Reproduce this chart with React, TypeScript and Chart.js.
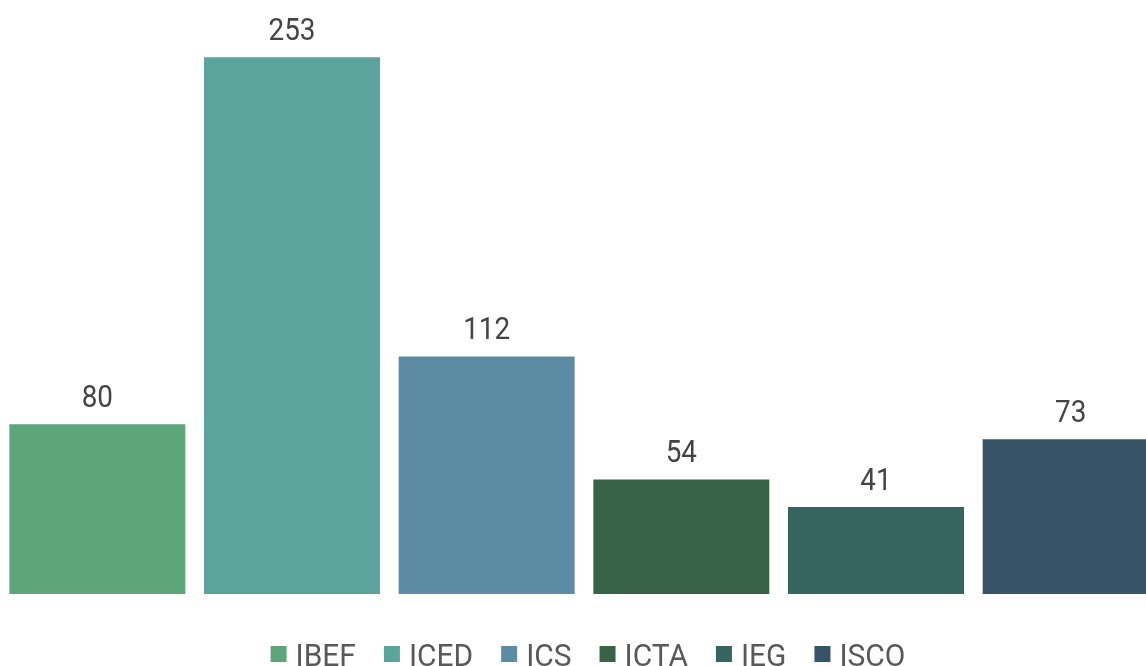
import React, { useEffect, useRef } from "react";
import { Chart, registerables } from "chart.js";

Chart.register(...registerables);

const categories = ["IBEF", "ICED", "ICS", "ICTA", "IEG", "ISCO"];
const values = [80, 253, 112, 54, 41, 73];
const colors = ["#5ca67a", "#5ba49c", "#5b8ca4", "#376447", "#36645e", "#365465"];

const FONT = "Roboto, 'Noto Sans', sans-serif";

const valueLabels = {
  id: "valueLabels",
  afterDatasetsDraw(chart: any) {
    const ctx = chart.ctx;
    const sx = 0.87;
    ctx.save();
    ctx.font = `32px ${FONT}`;
    ctx.fillStyle = "#444444";
    ctx.textAlign = "center";
    ctx.textBaseline = "alphabetic";
    chart.data.datasets.forEach((ds: any, di: number) => {
      const meta = chart.getDatasetMeta(di);
      meta.data.forEach((bar: any, i: number) => {
        const v = ds.data[i];
        if (v == null) return;
        ctx.save();
        ctx.translate(bar.x, bar.y - 17);
        ctx.scale(sx, 1);
        ctx.fillText(String(v), 0, 0);
        ctx.restore();
      });
    });
    ctx.restore();
  },
};

const customLegend = {
  id: "customLegend",
  afterDraw(chart: any) {
    const ctx = chart.ctx;
    const box = 16;
    const gapText = 9;
    const gapItem = 28;
    const centerX = 588;
    const boxTop = 646;
    const baseline = 665.5;
    const sx = 0.935;
    ctx.save();
    ctx.font = `32px ${FONT}`;
    ctx.textAlign = "left";
    ctx.textBaseline = "alphabetic";
    const widths = categories.map((c) => ctx.measureText(c).width * sx);
    const total =
      widths.reduce((a, w) => a + box + gapText + w, 0) + gapItem * (categories.length - 1);
    let x = centerX - total / 2;
    categories.forEach((c, i) => {
      ctx.fillStyle = colors[i];
      ctx.fillRect(x, boxTop, box, box);
      ctx.fillStyle = "#595959";
      ctx.save();
      ctx.translate(x + box + gapText, baseline);
      ctx.scale(sx, 1);
      ctx.fillText(c, 0, 0);
      ctx.restore();
      x += box + gapText + widths[i] + gapItem;
    });
    ctx.restore();
  },
};

export default function App() {
  const ref = useRef<HTMLCanvasElement | null>(null);
  useEffect(() => {
    if (!ref.current) return;
    const chart = new Chart(ref.current, {
      type: "bar",
      data: {
        labels: categories,
        datasets: [
          {
            data: values,
            backgroundColor: colors,
            borderWidth: 0,
            categoryPercentage: 1,
            barPercentage: 0.904,
          },
        ],
      },
      plugins: [valueLabels, customLegend],
      options: {
        animation: false,
        responsive: false,
        maintainAspectRatio: false,
        layout: { padding: { top: 0, left: 0, right: 0, bottom: 72 } },
        scales: {
          x: { display: false },
          y: { display: false, min: 0, max: 280 },
        },
        plugins: {
          tooltip: { enabled: false },
          legend: { display: false },
        },
      },
    });
    return () => chart.destroy();
  }, []);
  return (
    <div style={{ position: "fixed", left: 0, top: 0, width: 1146, height: 666, overflow: "hidden", background: "#fff" }}>
      <canvas ref={ref} width={1168} height={666} style={{ display: "block", width: 1168, height: 666 }} />
    </div>
  );
}
